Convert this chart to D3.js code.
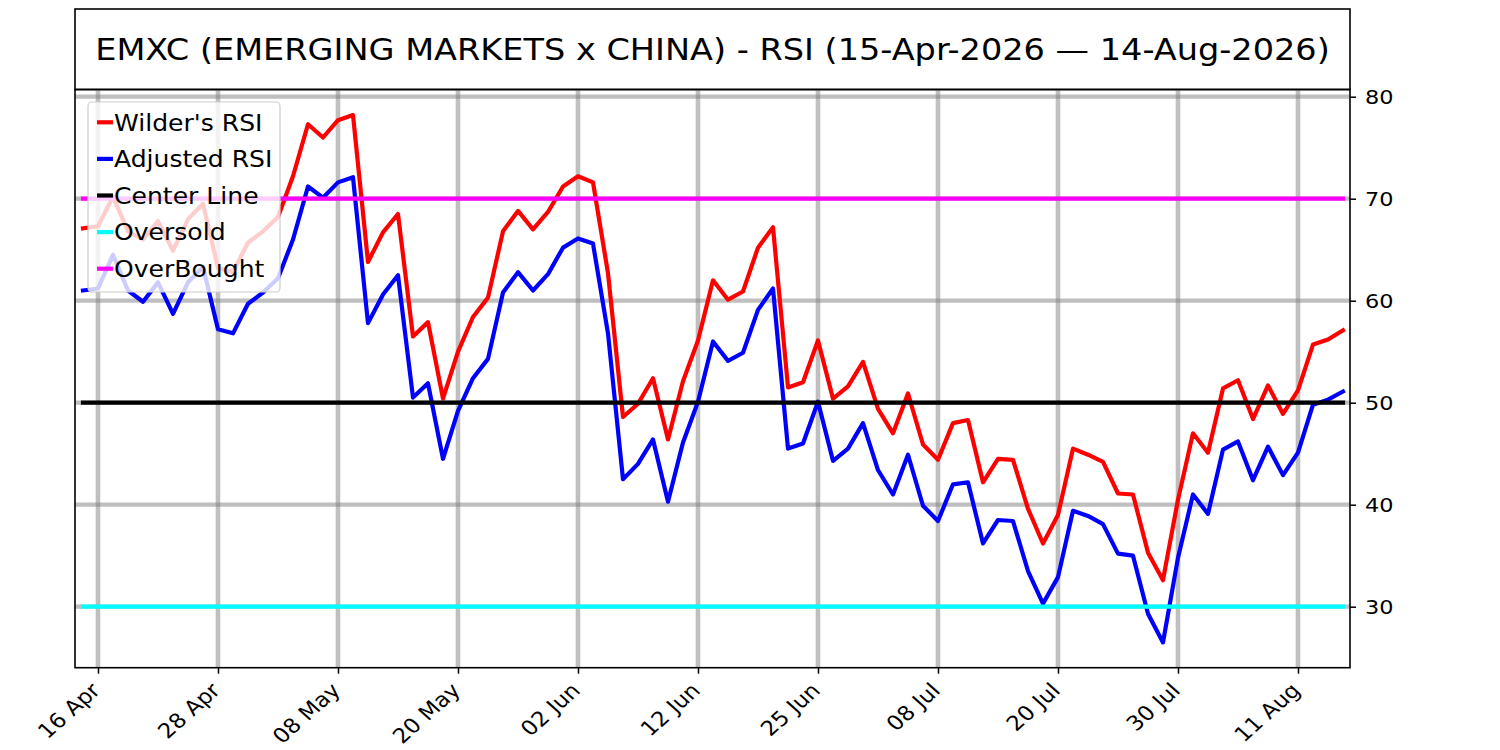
<!DOCTYPE html>
<html><head><meta charset="utf-8">
<script src="https://cdn.jsdelivr.net/npm/d3@7"></script>
<style>body{margin:0;background:#fff} svg{display:block} text{font-family:"DejaVu Sans",sans-serif}</style>
</head><body><svg id="c" width="1500" height="750"></svg>
<script>
const dates = ["2026-04-15","2026-04-16","2026-04-17","2026-04-20","2026-04-21","2026-04-22","2026-04-23","2026-04-24","2026-04-27","2026-04-28","2026-04-29","2026-04-30",
"2026-05-01","2026-05-04","2026-05-05","2026-05-06","2026-05-07","2026-05-08","2026-05-11","2026-05-12","2026-05-13","2026-05-14","2026-05-15","2026-05-18","2026-05-19","2026-05-20","2026-05-21","2026-05-22","2026-05-26","2026-05-27","2026-05-28","2026-05-29",
"2026-06-01","2026-06-02","2026-06-03","2026-06-04","2026-06-05","2026-06-08","2026-06-09","2026-06-10","2026-06-11","2026-06-12","2026-06-15","2026-06-16","2026-06-17","2026-06-18","2026-06-22","2026-06-23","2026-06-24","2026-06-25","2026-06-26","2026-06-29","2026-06-30",
"2026-07-01","2026-07-02","2026-07-06","2026-07-07","2026-07-08","2026-07-09","2026-07-10","2026-07-13","2026-07-14","2026-07-15","2026-07-16","2026-07-17","2026-07-20","2026-07-21","2026-07-22","2026-07-23","2026-07-24","2026-07-27","2026-07-28","2026-07-29","2026-07-30","2026-07-31",
"2026-08-03","2026-08-04","2026-08-05","2026-08-06","2026-08-07","2026-08-10","2026-08-11","2026-08-12","2026-08-13","2026-08-14"];

const wilderRSI = [67.1,67.3,70.2,66.8,66.0,67.8,64.9,68.0,69.5,63.2,62.8,65.7,66.8,68.2,72.2,77.3,76.0,77.7,78.2,63.8,
66.7,68.5,56.5,57.9,50.4,55.0,58.4,60.3,66.8,68.8,67.0,68.7,71.2,72.2,71.6,62.7,48.6,49.9,52.4,46.4,
52.1,56.1,62.0,60.1,60.9,65.2,67.2,51.5,52.0,56.1,50.4,51.6,54.0,49.4,47.0,50.9,45.9,44.4,48.0,48.3,
42.2,44.5,44.4,39.6,36.2,39.0,45.5,44.9,44.2,41.1,41.0,35.3,32.6,40.5,47.0,45.1,51.4,52.2,48.4,51.7,
48.9,51.2,55.7,56.2,57.1];

const adjustedRSI = [61.0,61.2,64.5,61.0,59.9,61.8,58.7,61.8,63.3,57.2,56.8,59.7,60.8,62.2,66.0,71.2,70.1,71.6,72.1,57.8,
60.6,62.5,50.5,51.9,44.5,49.2,52.4,54.3,60.8,62.8,61.0,62.6,65.2,66.1,65.6,56.8,42.5,44.0,46.4,40.3,
46.1,50.1,56.0,54.1,54.9,59.1,61.2,45.5,46.0,50.1,44.3,45.5,48.0,43.4,41.0,44.9,39.9,38.4,42.0,42.2,
36.2,38.5,38.4,33.5,30.3,32.9,39.4,38.9,38.1,35.2,35.0,29.3,26.5,34.8,41.0,39.1,45.4,46.2,42.4,45.7,
42.9,45.1,49.8,50.3,51.1];

const centerLevel = 50, oversoldLevel = 30, overboughtLevel = 70;
const xTickLabels = ["16 Apr","28 Apr","08 May","20 May","02 Jun","12 Jun","25 Jun","08 Jul","20 Jul","30 Jul","11 Aug"];
const yTickValues = [30,40,50,60,70,80];
const seriesNames = ["Wilder's RSI","Adjusted RSI","Center Line","Oversold","OverBought"];
const seriesColors = ["#ff0000","#0000ff","#000000","#00ffff","#ff00ff"];
const titleText = "EMXC (EMERGING MARKETS x CHINA) - RSI (15-Apr-2026 \u2014 14-Aug-2026)";

const SX = 1.12; // horizontal stretch of the reference's text
const svg = d3.select("#c");
const L = 75, R = 1350, T = 89.5, B = 667.7;
const x = d3.scaleLinear().domain([-0.533, 84.467]).range([L, R]);
const y = d3.scaleLinear().domain([24.02, 80.706]).range([B, T]);
const fmt = d3.timeFormat("%d %b");
const parse = d3.timeParse("%Y-%m-%d");
const labels = dates.map(d => fmt(parse(d)));
const tickIdx = xTickLabels.map(l => labels.indexOf(l));

// title box
svg.append("rect").attr("x", L).attr("y", 9).attr("width", R - L).attr("height", T - 9)
  .attr("fill", "none").attr("stroke", "#000").attr("stroke-width", 1.6);
svg.append("text").attr("transform", `translate(${(L + R) / 2},59.5) scale(${SX},1)`)
  .attr("text-anchor", "middle").attr("font-size", 29.95).attr("fill", "#000").text(titleText);

// grid
const grid = svg.append("g").attr("stroke", "#808080").attr("stroke-opacity", 0.5);
grid.selectAll("line.v").data(tickIdx).join("line").attr("class", "v").attr("stroke-width", 4.6)
  .attr("x1", d => x(d)).attr("x2", d => x(d)).attr("y1", T).attr("y2", B);
grid.selectAll("line.h").data(yTickValues).join("line").attr("class", "h").attr("stroke-width", 4.2)
  .attr("x1", L).attr("x2", R).attr("y1", d => y(d)).attr("y2", d => y(d));

// series
const line = d3.line().x((d, i) => x(i)).y(d => y(d));
const seriesData = [
  wilderRSI,
  adjustedRSI,
  dates.map(() => centerLevel),
  dates.map(() => oversoldLevel),
  dates.map(() => overboughtLevel)
];
svg.append("g").selectAll("path").data(seriesData).join("path")
  .attr("d", d => line(d)).attr("fill", "none")
  .attr("stroke", (d, i) => seriesColors[i]).attr("stroke-width", 4.2)
  .attr("stroke-linejoin", "round").attr("stroke-linecap", "square");

// axes
const xAxis = svg.append("g").attr("transform", `translate(0,${B})`)
  .call(d3.axisBottom(x).tickValues(tickIdx).tickFormat(i => labels[i]).tickSize(6).tickSizeOuter(0));
xAxis.select(".domain").remove();
xAxis.selectAll(".tick line").attr("stroke", "#000").attr("stroke-width", 1.5);
xAxis.selectAll(".tick text").attr("font-size", 20.5).attr("fill", "#000")
  .attr("font-family", "DejaVu Sans")
  .attr("x", 0).attr("y", 0).attr("dy", 0).attr("text-anchor", "end")
  .attr("transform", `translate(3,24) scale(${SX},1) rotate(-45)`);

const yAxis = svg.append("g").attr("transform", `translate(${R},0)`)
  .call(d3.axisRight(y).tickValues(yTickValues).tickSize(6).tickSizeOuter(0));
yAxis.select(".domain").remove();
yAxis.selectAll(".tick line").attr("stroke", "#000").attr("stroke-width", 1.5);
yAxis.selectAll(".tick text").attr("font-size", 20).attr("fill", "#000").attr("font-family", "DejaVu Sans")
  .attr("x", 0).attr("text-anchor", "start").attr("transform", `translate(15,0) scale(${SX},1)`);

// spines
svg.append("rect").attr("x", L).attr("y", T).attr("width", R - L).attr("height", B - T)
  .attr("fill", "none").attr("stroke", "#000").attr("stroke-width", 1.6);

// legend
const lg = svg.append("g");
lg.append("rect").attr("x", 88).attr("y", 102).attr("width", 192).attr("height", 190).attr("rx", 4)
  .attr("fill", "#fff").attr("fill-opacity", 0.8).attr("stroke", "#cccccc").attr("stroke-width", 1.2);
const items = lg.selectAll("g.item").data(seriesNames).join("g").attr("class", "item")
  .attr("transform", (d, i) => `translate(0,${122.3 + i * 36.6})`);
items.append("line").attr("x1", 97).attr("x2", 113).attr("y1", 0).attr("y2", 0)
  .attr("stroke", (d, i) => seriesColors[i]).attr("stroke-width", 4.2);
items.append("text").attr("transform", `translate(114,8.2) scale(${SX},1)`)
  .attr("font-size", 22.4).attr("fill", "#000").text(d => d);
</script></body></html>
